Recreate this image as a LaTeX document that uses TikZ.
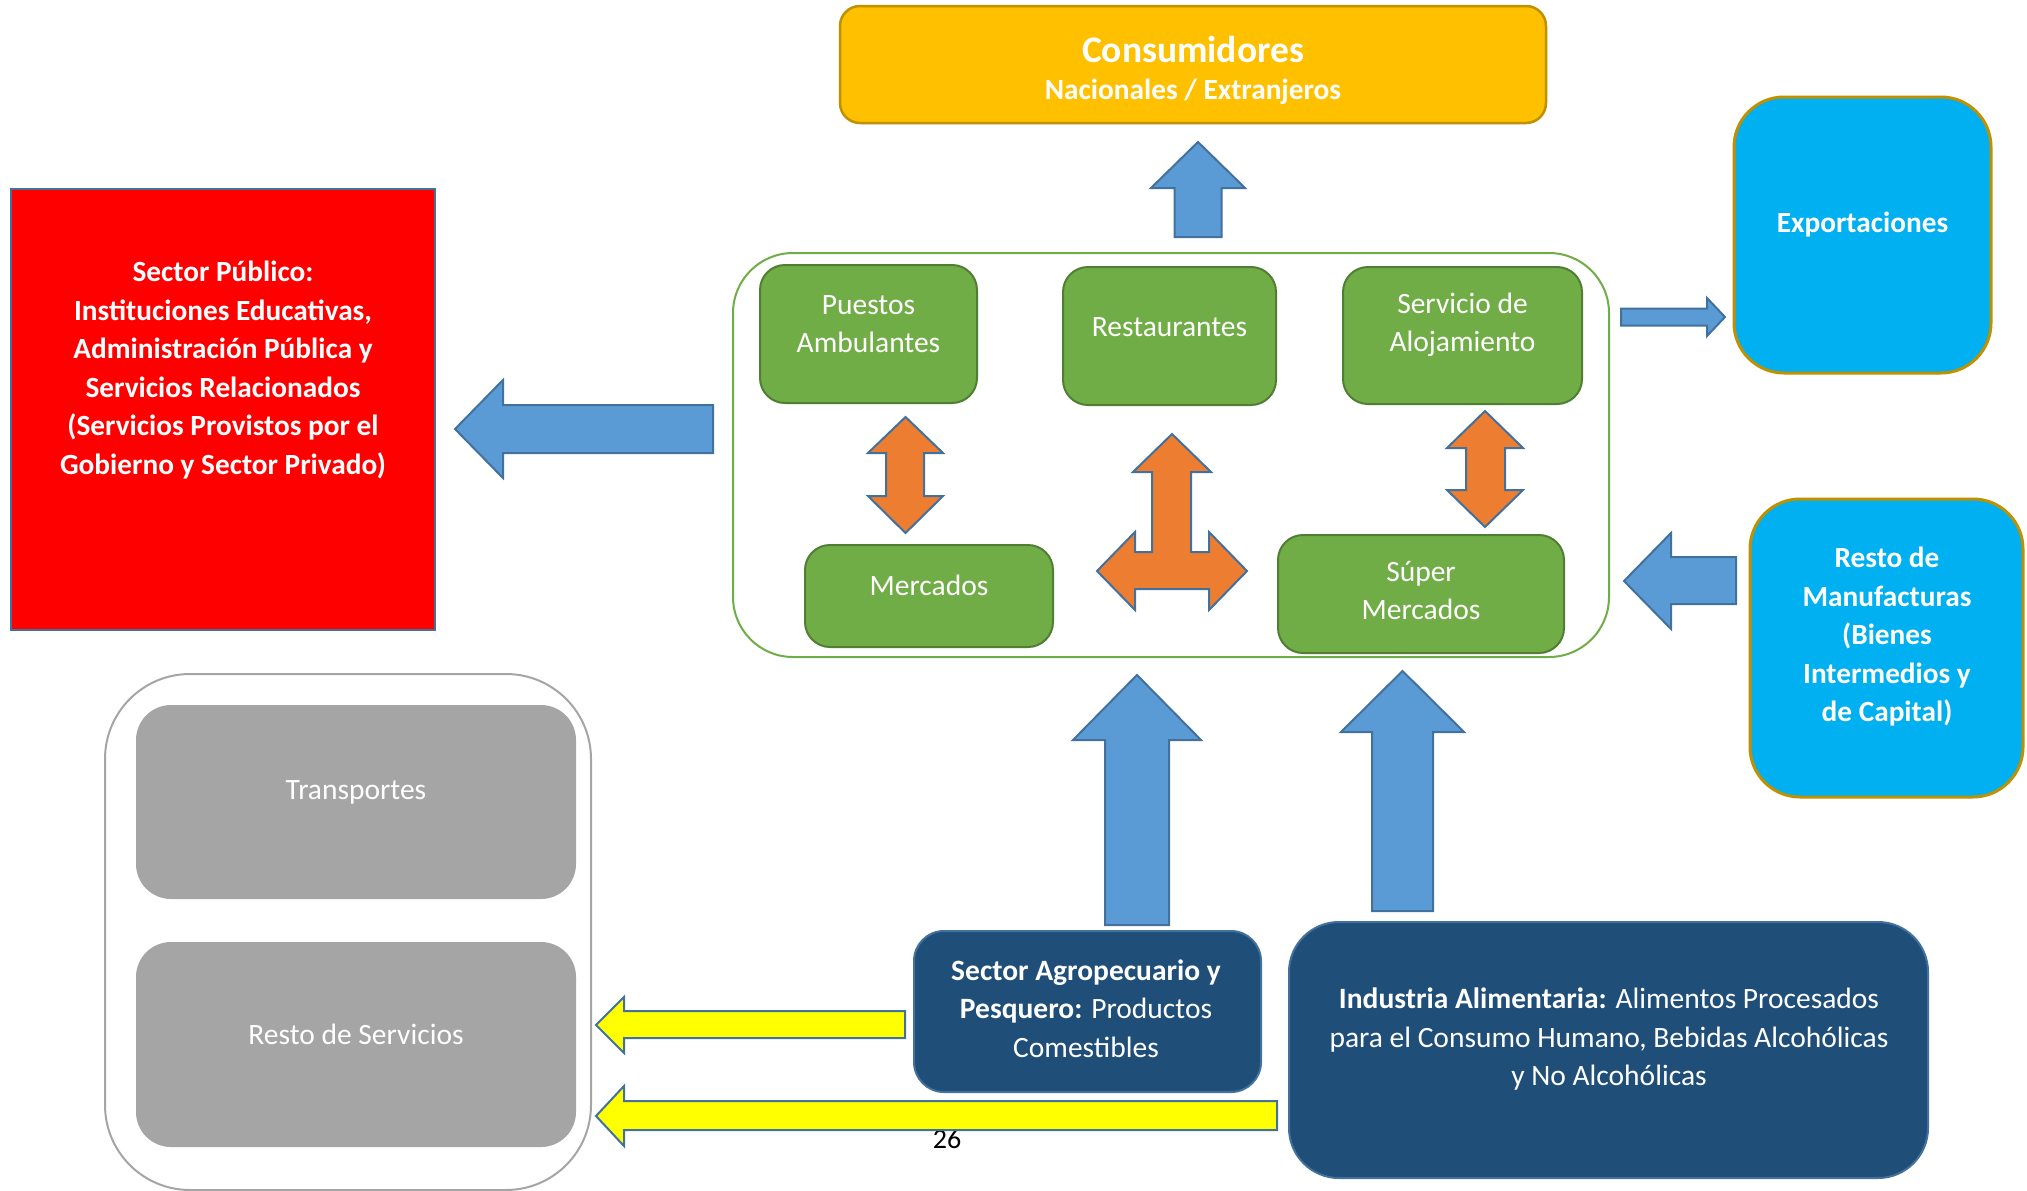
\documentclass[tikz,border=0pt]{standalone}
\usepackage{fontspec}
\setmainfont{Carlito}
\definecolor{cgold}{HTML}{FFC000}
\definecolor{cgoldb}{HTML}{BF9000}
\definecolor{cblue}{HTML}{5B9BD5}
\definecolor{cblueb}{HTML}{41719C}
\definecolor{corange}{HTML}{ED7D31}
\definecolor{cgreen}{HTML}{70AD47}
\definecolor{cgreenb}{HTML}{507E32}
\definecolor{ccyan}{HTML}{00B0F0}
\definecolor{cnavy}{HTML}{1F4E79}
\definecolor{cgray}{HTML}{A5A5A5}
\definecolor{cyell}{HTML}{FFFF00}
\begin{document}
\begin{tikzpicture}[x=1pt,y=-1pt,
  box/.style={rectangle, inner sep=0pt, outer sep=0pt},
  greenbox/.style={box, fill=cgreen, draw=cgreenb, line width=2pt, rounded corners=25pt},
  cyanbox/.style={box, fill=ccyan, draw=cgoldb, line width=3pt, rounded corners=50pt},
  navybox/.style={box, fill=cnavy, draw=cblueb, line width=2pt},
  graybox/.style={box, fill=cgray, rounded corners=35pt},
  txt/.style={text=white, align=center, inner sep=0pt, font=\fontsize{29.5}{38.5}\selectfont},
  btxt/.style={txt, font=\fontsize{29.3}{38.5}\selectfont\bfseries},
  bluearrow/.style={fill=cblue, draw=cblueb, line width=2pt},
  orangearrow/.style={fill=corange, draw=cblueb, line width=2pt},
  yellowarrow/.style={fill=cyell, draw=cblueb, line width=2pt}
]
\useasboundingbox (0,0) rectangle (2027,1191);
\fill[white] (0,0) rectangle (2027,1191);

% Consumidores
\node[box, fill=cgold, draw=cgoldb, line width=2.5pt, rounded corners=20pt,
  minimum width=706pt, minimum height=117pt] (cons) at (1193,64.5) {};
\node[txt, font=\fontsize{37.5}{40}\selectfont\bfseries] (cons-t1) at (1193,49) {Consumidores};
\node[btxt] (cons-t2) at (1193,92) {Nacionales / Extranjeros};

% green container
\node[box, draw=cgreen, line width=2pt, rounded corners=60pt,
  minimum width=876pt, minimum height=404pt] (cont) at (1171,455) {};

\node[greenbox, minimum width=217pt, minimum height=138pt] (puestos) at (868.5,334) {};
\node[txt] (puestos-t) at (868.5,324) {Puestos\\Ambulantes};
\node[greenbox, minimum width=213pt, minimum height=138pt] (rest) at (1169.5,336) {};
\node[txt] (rest-t) at (1169.5,327) {Restaurantes};
\node[greenbox, minimum width=239pt, minimum height=137pt] (aloj) at (1462.5,335.5) {};
\node[txt] (aloj-t) at (1462.5,325) {Servicio de\\Alojamiento};
\node[greenbox, minimum width=248pt, minimum height=102pt] (merc) at (929,596) {};
\node[txt] (merc-t) at (929,585) {Mercados};
\node[greenbox, minimum width=286pt, minimum height=118pt] (super) at (1421,594) {};
\node[txt] (super-t) at (1421,590.5) {Súper\\Mercados};

% red box
\node[box, fill=red, draw=cblueb, line width=2pt, minimum width=424pt, minimum height=441pt] (pub) at (223,409.5) {};
\node[btxt] (pub-t) at (223,370) {Sector Público:\\Instituciones Educativas,\\Administración Pública y\\Servicios Relacionados\\(Servicios Provistos por el\\Gobierno y Sector Privado)};

% cyan boxes
\node[cyanbox, minimum width=257pt, minimum height=276pt] (exp) at (1862.5,235) {};
\node[btxt] (exp-t) at (1862.5,225) {Exportaciones};
\node[cyanbox, minimum width=273pt, minimum height=298pt] (manuf) at (1886.5,648) {};
\node[btxt] (manuf-t) at (1887,637) {Resto de\\Manufacturas\\(Bienes\\Intermedios y\\de Capital)};

% gray container
\node[box, draw=cgray, line width=2pt, rounded corners=85pt, minimum width=486pt, minimum height=516pt] (serv) at (348,932) {};
\node[graybox, minimum width=440pt, minimum height=194pt] (transp) at (356,802) {};
\node[txt] (transp-t) at (356,792) {Transportes};
\node[graybox, minimum width=440pt, minimum height=205pt] (resto) at (356,1044.5) {};
\node[txt] (resto-t) at (356,1034) {Resto de Servicios};

% navy boxes
\node[navybox, rounded corners=30pt, minimum width=347pt, minimum height=161pt] (agro) at (1087.5,1011.5) {};
\node[txt] (agro-t) at (1086,1008.5) {\bfseries Sector Agropecuario y\\\bfseries Pesquero: \mdseries Productos\\Comestibles};
\node[navybox, rounded corners=50pt, minimum width=639pt, minimum height=256pt] (ind) at (1608.5,1050) {};
\node[txt] (ind-t) at (1609,1039.5) {\textbf{Industria Alimentaria:} Alimentos Procesados\\para el Consumo Humano, Bebidas Alcohólicas\\y No Alcohólicas};

% page number
\node[txt, text=black, font=\fontsize{28}{30}\selectfont] (pg) at (947,1139) {26};

% blue arrows
\draw[bluearrow] (1198,142) -- (1245,188) -- (1221.5,188) -- (1221.5,237) -- (1174.5,237) -- (1174.5,188) -- (1151,188) -- cycle;
\draw[bluearrow] (455,429) -- (503,380) -- (503,405) -- (713,405) -- (713,453) -- (503,453) -- (503,478) -- cycle;
\draw[bluearrow] (1725,317) -- (1707,336) -- (1707,325.5) -- (1621,325.5) -- (1621,308.5) -- (1707,308.5) -- (1707,298) -- cycle;
\draw[bluearrow] (1624,581) -- (1671,533) -- (1671,557) -- (1736,557) -- (1736,604) -- (1671,604) -- (1671,629) -- cycle;
\draw[bluearrow] (1137,675) -- (1201,740) -- (1169,740) -- (1169,925) -- (1105,925) -- (1105,740) -- (1073,740) -- cycle;
\draw[bluearrow] (1402.5,671) -- (1464,732) -- (1433,732) -- (1433,911) -- (1372,911) -- (1372,732) -- (1341,732) -- cycle;

% yellow arrows
\draw[yellowarrow] (596,1025) -- (624,997) -- (624,1011) -- (905,1011) -- (905,1038) -- (624,1038) -- (624,1053) -- cycle;
\draw[yellowarrow] (596,1116) -- (624,1086) -- (624,1101) -- (1277,1101) -- (1277,1130) -- (624,1130) -- (624,1146) -- cycle;

% orange arrows
\draw[orangearrow] (905.5,417) -- (943,453) -- (924,453) -- (924,496) -- (943,496) -- (905.5,533) -- (868,496) -- (886,496) -- (886,453) -- (868,453) -- cycle;
\draw[orangearrow] (1485,411) -- (1523,448) -- (1505,448) -- (1505,490) -- (1523,490) -- (1485,527) -- (1447,490) -- (1466,490) -- (1466,448) -- (1447,448) -- cycle;
\draw[orangearrow] (1172,434) -- (1211,472) -- (1191,472) -- (1191,552) -- (1209,552) -- (1209,532) -- (1247,571) -- (1209,610) -- (1209,589) -- (1135,589) -- (1135,610) -- (1097,571) -- (1135,532) -- (1135,552) -- (1152,552) -- (1152,472) -- (1133,472) -- cycle;
\end{tikzpicture}
\end{document}
